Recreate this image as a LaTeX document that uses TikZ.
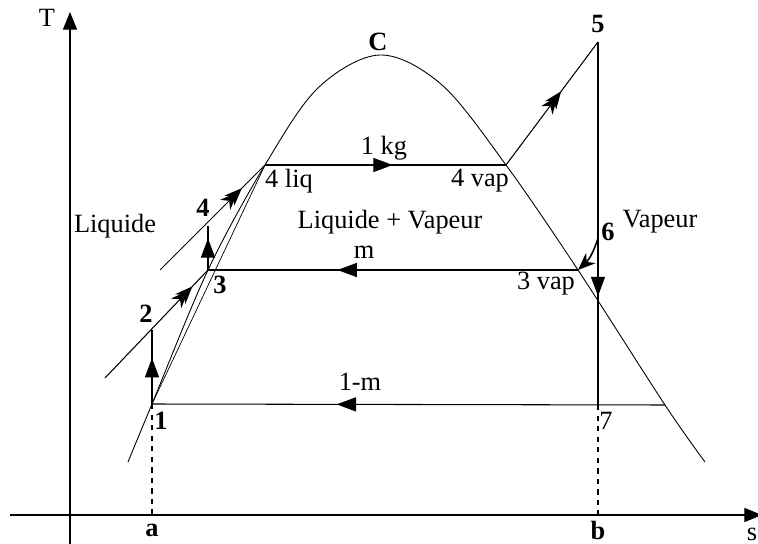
\documentclass[tikz,border=0pt]{standalone}
\usepackage{fontspec}
\setmainfont{Liberation Serif}
\usetikzlibrary{arrows.meta,decorations.markings}
\begin{document}
\begin{tikzpicture}[x=0.02cm,y=-0.02cm,
    font=\fontsize{15}{18}\selectfont,
    line width=0.6pt,
    midarrow/.style={postaction={decorate},decoration={markings,
        mark=at position #1 with {\arrow{Triangle[length=11pt,width=8pt]}}}},
    featherarrow/.style={postaction={decorate},decoration={markings,
        mark=at position #1 with {\arrow{Stealth[length=10pt,width=8pt]}},
        mark=at position #1-0.04 with {\arrow{Stealth[length=10pt,width=8pt]}}}},
    pt/.style={font=\fontsize{15}{18}\selectfont\bfseries,inner sep=1pt},
    lbl/.style={inner sep=1pt}]
  \useasboundingbox (0,0) rectangle (758,544);
  % Axes
  \draw[-{Triangle[length=10pt,width=8pt]}] (70,544) -- (70,12);
  \draw[-{Triangle[length=10pt,width=8pt]}] (10,515) -- (762,515);
  \node[lbl] (T) at (47,18) {T};
  \node[lbl] (s) at (752,534) {s};
  % Points of the cycle
  \coordinate (p1) at (152,404);
  \coordinate (p2) at (152,330);
  \coordinate (p3) at (208,270);
  \coordinate (p4) at (208,226);
  \coordinate (l4) at (265,165);
  \coordinate (v4) at (506,165);
  \coordinate (p5) at (598,42);
  \coordinate (p6) at (598,238);
  \coordinate (v3) at (578,270);
  \coordinate (p7) at (598,405);
  \coordinate (e7) at (665,405);
  \coordinate (a) at (152,515);
  \coordinate (b) at (598,515);
  % Saturation curve
  \draw[line width=0.5pt] plot[smooth,tension=0.55] coordinates
    {(128,462) (152,404) (208,270) (265,165) (318,88) (380,55)
     (442,85) (506,165) (578,270) (665,405) (705,462)};
  \draw[line width=0.4pt] (p1) -- (l4);
  % Processes
  \draw[midarrow=0.62] (p1) -- (p2);
  \draw[featherarrow=0.85] (105,378) -- (p3);
  \draw[midarrow=0.72] (p3) -- (p4);
  \draw[featherarrow=0.78] (160,270) -- (l4);
  \draw[midarrow=0.53] (l4) -- (v4);
  \draw[featherarrow=0.6] (v4) -- (p5);
  \draw[midarrow=0.7] (p5) -- (p7);
  \draw[-{Stealth[length=10pt,width=8pt]},line width=0.9pt] (p6) to[bend left=15] (v3);
  \draw[midarrow=0.65] (v3) -- (p3);
  \draw[midarrow=0.64] (e7) -- (p1);
  \draw[dashed] (p1) -- (a);
  \draw[dashed] (p7) -- (b);
  % Labels
  \node[pt] (n1) at (161,421) {1};
  \node[pt] (n2) at (146,314) {2};
  \node[pt] (n3) at (220,285) {3};
  \node[pt] (n4) at (203,208) {4};
  \node[pt] (n5) at (598,24) {5};
  \node[pt] (n6) at (608,232) {6};
  \node[lbl] (n7) at (606,421) {7};
  \node[pt] (na) at (152,530) {a};
  \node[pt] (nb) at (598,530) {b};
  \node[pt] (nC) at (378,42) {C};
  \node[lbl] (liq4) at (289,181) {4 liq};
  \node[lbl] (vap4) at (480,181) {4 vap};
  \node[lbl] (vap3) at (546,284) {3 vap};
  \node[lbl] (kg) at (384,148) {1 kg};
  \node[lbl] (m) at (364,252) {m};
  \node[lbl] (mm) at (360,382) {1-m};
  \node[lbl] (liquide) at (115,226) {Liquide};
  \node[lbl] (mix) at (390,222) {Liquide + Vapeur};
  \node[lbl] (vapeur) at (660,222) {Vapeur};
\end{tikzpicture}
\end{document}
